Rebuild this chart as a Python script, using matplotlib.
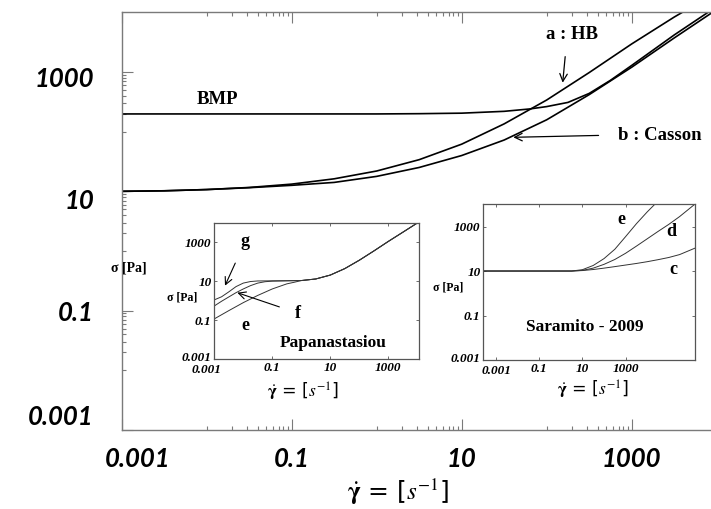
import numpy as np
import matplotlib
matplotlib.use('Agg')
import matplotlib.pyplot as plt
from matplotlib.transforms import ScaledTranslation

plt.rcParams['mathtext.fontset'] = 'stix'

W, H = 711, 509

# main chart: flow curves (shear rate [1/s], stress [Pa])
gamma_hb = [0.001, 0.00316, 0.01, 0.0316, 0.1, 0.316, 1, 3.16, 10, 31.6, 100, 316, 1000, 3162, 4169]
sigma_hb = [10, 10.2, 10.7, 11.6, 13.2, 16.2, 21.9, 33.9, 61.7, 135, 339, 977, 2951, 8318, 10470]

gamma_cas = [0.001, 0.00316, 0.01, 0.0316, 0.1, 0.316, 1, 3.16, 10, 31.6, 100, 316, 1000, 3162, 8511]
sigma_cas = [10, 10.2, 10.7, 11.5, 12.6, 14.1, 17.8, 25.1, 39.8, 72.4, 158, 417, 1202, 3715, 9550]

gamma_bmp = [0.001, 1, 3.16, 10, 31.6, 63.1, 100, 178, 316, 562, 1000, 3162, 8511]
sigma_bmp = [198, 198, 200, 204, 219, 240, 263, 309, 437, 724, 1288, 4169, 10715]

# inset 1: Papanastasiou (e, f, g) + shared tail
pap_gamma_g = [0.001, 0.00178, 0.00316, 0.00562, 0.01, 0.0178, 0.0316, 0.1, 0.316]
pap_sigma_g = [1.10, 1.58, 2.82, 5.25, 7.94, 9.55, 10.2, 10.35, 10.5]
pap_gamma_f = [0.001, 0.00178, 0.00316, 0.00562, 0.01, 0.0178, 0.0316, 0.0562, 0.1, 0.316]
pap_sigma_f = [0.537, 0.933, 1.55, 2.57, 3.98, 5.89, 7.94, 9.33, 10.0, 10.35]
pap_gamma_e = [0.001, 0.00316, 0.01, 0.0316, 0.1, 0.316, 0.562]
pap_sigma_e = [0.117, 0.309, 0.794, 1.86, 3.98, 7.24, 8.71]
pap_gamma_tail = [1, 3.16, 10, 31.6, 100, 316, 1000, 3162, 11482]
pap_sigma_tail = [10.7, 12.9, 20.4, 43.7, 117, 347, 1072, 3162, 10715]

# inset 2: Saramito 2009 (c, d, e)
sar_gamma_e = [0.000257, 3.16, 10, 31.6, 100, 316, 1000, 3162, 10000, 25119]
sar_sigma_e = [10, 10, 11.5, 17.8, 36.3, 95.5, 355, 1349, 4571, 11220]
sar_gamma_d = [0.000257, 3.16, 10, 31.6, 100, 316, 1000, 3162, 10000, 31623, 1e5, 316228, 1.62e6]
sar_sigma_d = [10, 10, 10.7, 13.5, 20, 33.1, 63.1, 132, 282, 603, 1259, 2818, 10233]
sar_gamma_c = [0.000257, 3.16, 10, 31.6, 100, 316, 1000, 3162, 10000, 31623, 1e5, 316228, 1.62e6]
sar_sigma_c = [10, 10, 10.5, 11.7, 13.5, 15.8, 18.6, 21.9, 26.3, 32.4, 40.7, 55, 107]

major_ticks = [1e-3, 1e-1, 1e1, 1e3]
major_labels = ['0.001', '0.1', '10', '1000']
minor_ticks = [k * 10.0 ** e for e in (-2, 0, 2) for k in range(1, 10)]

SERIF = 'Liberation Serif'
SPINE = '#7a7a7a'
XLABEL = r'$\dot{\mathbf{\gamma}}$ = [$s^{-1}$]'


def box(px_left, px_top, px_right, px_bottom):
    # figure fraction rect from pixel edges (origin top-left)
    return [px_left / W, 1 - px_bottom / H, (px_right - px_left) / W, (px_bottom - px_top) / H]


def fp(x, y):
    return (x, H - y)


def shift(lbl, dx, dy):
    lbl.set_transform(lbl.get_transform() + ScaledTranslation(dx / 100, -dy / 100, fig.dpi_scale_trans))


def label(x, y, s, size, **kw):
    fig.text(x / W, 1 - y / H, s, family=SERIF, weight='bold', fontsize=size,
             ha=kw.pop('ha', 'center'), va='center', **kw)


fig = plt.figure(figsize=(W / 100, H / 100), dpi=100)

# ---- main axes
ax = fig.add_axes(box(121.7, 12.3, 716.7, 430))
ax.plot(gamma_bmp, sigma_bmp, color='black', lw=1.2)
ax.plot(gamma_hb, sigma_hb, color='black', lw=1.2)
ax.plot(gamma_cas, sigma_cas, color='black', lw=1.2)
ax.set_xscale('log')
ax.set_yscale('log')
ax.set_xlim(1e-3, 1e4)
ax.set_ylim(1e-3, 1e4)
ax.set_xticks(major_ticks)
ax.set_xticks(minor_ticks, minor=True)
ax.set_yticks(major_ticks)
ax.set_yticks(minor_ticks, minor=True)
ax.set_xticklabels(major_labels)
ax.set_yticklabels(major_labels)
ax.xaxis.set_minor_formatter(plt.NullFormatter())
ax.yaxis.set_minor_formatter(plt.NullFormatter())
ax.tick_params(which='both', direction='in', top=True, right=False, color=SPINE, width=0.8)
ax.tick_params(which='major', length=8)
ax.tick_params(which='minor', length=3)
ax.tick_params(axis='x', pad=12)
ax.tick_params(axis='y', pad=20)
for sp in ax.spines.values():
    sp.set_color(SPINE)
    sp.set_linewidth(1.0)
ax.spines['right'].set_visible(False)
for lbl in ax.get_xticklabels() + ax.get_yticklabels():
    lbl.set_fontfamily('Lato')
    lbl.set_fontweight('bold')
    lbl.set_fontstyle('italic')
    lbl.set_fontsize(18.5)
xl = ax.get_xticklabels()
shift(xl[0], 16, 0)
yl = ax.get_yticklabels()
shift(yl[0], 0, -15)
shift(yl[2], 0, 8)
shift(yl[3], 0, 5)

fig.text(398 / W, 1 - 492 / H, XLABEL, fontsize=18, ha='center', va='center')
label(129, 268, 'σ [Pa]', 10)
label(217, 99, 'BMP', 13.5)
ax.annotate('a : HB', xy=fp(562.7, 82.7), xycoords='figure pixels',
            xytext=fp(571.7, 34.3), textcoords='figure pixels',
            family=SERIF, weight='bold', fontsize=13.5, ha='center', va='center',
            arrowprops=dict(arrowstyle='->', color='black', lw=0.9,
                            shrinkA=8, shrinkB=0, relpos=(0.4, 0)))
ax.annotate('b : Casson', xy=fp(513.3, 137.3), xycoords='figure pixels',
            xytext=fp(618, 135), textcoords='figure pixels',
            family=SERIF, weight='bold', fontsize=13.5, ha='left', va='center',
            arrowprops=dict(arrowstyle='->', color='black', lw=0.9,
                            shrinkA=12, shrinkB=0, relpos=(0, 0.5)))


def style_inset(a, xlim):
    a.set_xscale('log')
    a.set_yscale('log')
    a.set_xlim(*xlim)
    a.set_ylim(1e-3, 1e4)
    a.set_xticks(major_ticks)
    a.set_yticks(major_ticks)
    a.minorticks_off()
    a.set_xticklabels(major_labels)
    a.set_yticklabels(major_labels)
    a.tick_params(which='major', direction='in', length=2, top=True, right=True,
                  color='#555555', width=0.6, pad=2)
    for sp in a.spines.values():
        sp.set_color('#555555')
        sp.set_linewidth(0.9)
    for lbl in a.get_xticklabels() + a.get_yticklabels():
        lbl.set_fontfamily(SERIF)
        lbl.set_fontweight('bold')
        lbl.set_fontstyle('italic')
        lbl.set_fontsize(9.5)
    shift(a.get_yticklabels()[0], 0, -3)


# ---- inset 1: Papanastasiou
a1 = fig.add_axes(box(214.3, 222.5, 419, 359.3))
for g, s in [(pap_gamma_g, pap_sigma_g), (pap_gamma_f, pap_sigma_f), (pap_gamma_e, pap_sigma_e)]:
    a1.plot(g + pap_gamma_tail, s + pap_sigma_tail, color='#333333', lw=0.7)
style_inset(a1, (1e-3, 10 ** 4.06))
shift(a1.get_xticklabels()[0], -8, 2)
a1.annotate('g', xy=fp(225, 285.7), xycoords='figure pixels', xytext=fp(245, 241.7),
            textcoords='figure pixels', family=SERIF, weight='bold', fontsize=13,
            ha='center', va='center',
            arrowprops=dict(arrowstyle='->', color='black', lw=0.8, shrinkA=8, shrinkB=0))
a1.annotate('f', xy=fp(237.3, 292.7), xycoords='figure pixels', xytext=fp(298.3, 313.3),
            textcoords='figure pixels', family=SERIF, weight='bold', fontsize=13,
            ha='center', va='center',
            arrowprops=dict(arrowstyle='->', color='black', lw=0.8, shrinkA=10, shrinkB=0))
label(245, 326, 'e', 13)
label(333, 342.7, 'Papanastasiou', 12.5)
label(182, 297, 'σ [Pa]', 8.5)
fig.text(303 / W, 1 - 391.7 / H, XLABEL, fontsize=12.5, ha='center', va='center')

# ---- inset 2: Saramito
a2 = fig.add_axes(box(483.3, 204.3, 695, 360))
for g, s in [(sar_gamma_e, sar_sigma_e), (sar_gamma_d, sar_sigma_d), (sar_gamma_c, sar_sigma_c)]:
    a2.plot(g, s, color='#333333', lw=0.7)
style_inset(a2, (10 ** -3.59, 10 ** 6.21))
shift(a2.get_xticklabels()[0], 0, 2)
label(621.7, 220, 'e', 13)
label(671.7, 231.7, 'd', 13)
label(673.3, 270, 'c', 13)
label(585, 326.7, 'Saramito - 2009', 12.5)
label(448, 288, 'σ [Pa]', 8.5)
fig.text(593 / W, 1 - 390 / H, XLABEL, fontsize=12.5, ha='center', va='center')

fig.savefig('out.png', dpi=100)
